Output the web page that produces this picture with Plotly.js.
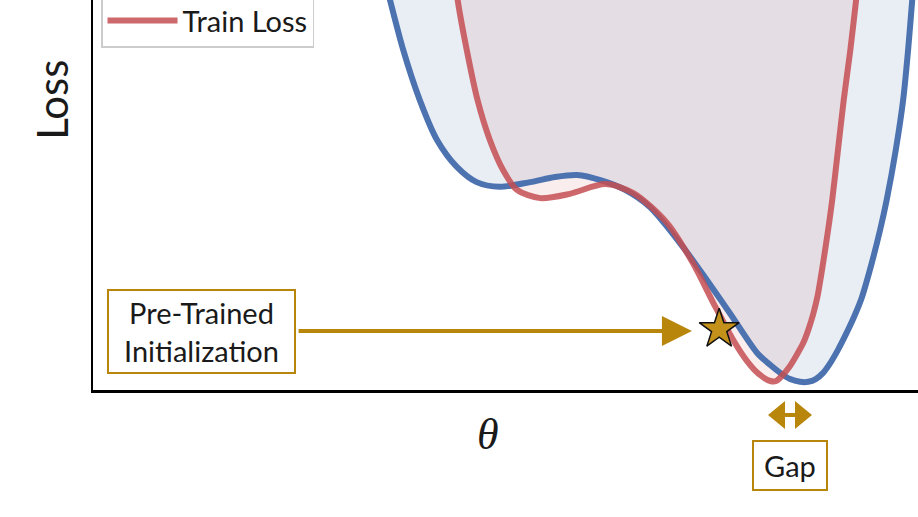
<!DOCTYPE html>
<html>
<head>
<meta charset="utf-8">
<script src="https://cdn.plot.ly/plotly-3.0.1.min.js"></script>
<style>
  html, body { margin: 0; padding: 0; background: #ffffff; }
  #chart { width: 918px; height: 517px; }
</style>
</head>
<body>
<div id="chart"></div>
<script>
// Test loss curve (blue)
const thetaTest = [3.48, 3.60, 3.76, 3.96, 4.17, 4.41, 4.65, 4.93, 5.30, 5.60, 5.87, 6.15, 6.45, 6.75, 7.15, 7.44, 7.72, 8.05, 8.21, 8.33, 8.45, 8.57, 8.67, 8.76, 8.85, 8.93, 9.03, 9.14, 9.24, 9.32, 9.44, 9.54, 9.62, 9.73, 9.82, 9.88, 9.93, 9.97];
const lossTest  = [11.03, 10.0, 8.72, 7.44, 6.41, 5.72, 5.33, 5.21, 5.33, 5.46, 5.51, 5.38, 5.13, 4.69, 3.67, 2.82, 1.97, 0.95, 0.64, 0.44, 0.28, 0.21, 0.21, 0.28, 0.44, 0.67, 1.03, 1.49, 1.95, 2.38, 3.26, 4.10, 4.87, 6.15, 7.44, 8.72, 10.0, 11.03];

// Train loss curve (red)
const thetaTrain = [4.36, 4.42, 4.53, 4.66, 4.81, 4.97, 5.14, 5.42, 5.78, 6.21, 6.55, 6.96, 7.27, 7.52, 7.76, 7.90, 8.02, 8.12, 8.21, 8.28, 8.35, 8.44, 8.53, 8.61, 8.67, 8.73, 8.78, 8.85, 8.91, 8.96, 9.03, 9.10, 9.18, 9.25, 9.31];
const lossTrain  = [11.03, 10.0, 8.72, 7.44, 6.41, 5.64, 5.13, 4.92, 5.03, 5.28, 5.05, 4.28, 3.26, 2.23, 1.28, 0.82, 0.51, 0.33, 0.23, 0.23, 0.36, 0.59, 0.90, 1.21, 1.54, 1.95, 2.38, 3.26, 4.10, 4.87, 6.15, 7.44, 8.72, 10.0, 11.03];

// Pre-trained initialization point
const initTheta = [7.59];
const initLoss  = [1.56];

// Annotation anchors (theta units)
const initLabelTheta = 1.31;
const initArrowTipTheta = 7.26;
const gapCenterTheta = 8.45;

const blue = 'rgb(76,114,176)';
const red = 'rgba(196,78,82,0.85)';
const gold = '#b8860b';
const font = 'Lato, "Open Sans", sans-serif';

const traces = [
  { x: thetaTest, y: lossTest, type: 'scatter', mode: 'lines', fill: 'toself',
    fillcolor: 'rgba(76,114,176,0.12)', line: { width: 0, shape: 'spline', smoothing: 0.8 },
    showlegend: false, hoverinfo: 'skip' },
  { x: thetaTrain, y: lossTrain, type: 'scatter', mode: 'lines', fill: 'toself',
    fillcolor: 'rgba(196,78,82,0.10)', line: { width: 0, shape: 'spline', smoothing: 0.8 },
    showlegend: false, hoverinfo: 'skip' },
  { x: thetaTest, y: lossTest, type: 'scatter', mode: 'lines', name: 'Test Loss',
    line: { color: blue, width: 6, shape: 'spline', smoothing: 0.8 } },
  { x: thetaTrain, y: lossTrain, type: 'scatter', mode: 'lines', name: 'Train Loss',
    line: { color: red, width: 6, shape: 'spline', smoothing: 0.8 } },
  { x: initTheta, y: initLoss, type: 'scatter', mode: 'markers', showlegend: false,
    marker: { symbol: 'star', size: 30, color: '#c4921a', line: { color: '#111111', width: 1.5 } } }
];

// double-headed "Gap" arrow below the axis (paper coordinates)
const gapArrowPath =
  'M0.8182,-0.0641 L0.8388,-0.0282 L0.8388,-0.1000 Z ' +
  'M0.8715,-0.0641 L0.8509,-0.0282 L0.8509,-0.1000 Z ' +
  'M0.8388,-0.0590 L0.8509,-0.0590 L0.8509,-0.0692 L0.8388,-0.0692 Z';

const layout = {
  width: 918, height: 517,
  margin: { l: 93, r: 0, t: 0, b: 127, autoexpand: false },
  paper_bgcolor: '#ffffff', plot_bgcolor: '#ffffff',
  font: { family: font, color: '#1a1a1a' },
  xaxis: { range: [0, 10], showgrid: false, zeroline: false, showticklabels: false, ticks: '',
           showline: true, linecolor: '#000000', linewidth: 2.5, fixedrange: true },
  yaxis: { range: [0, 10], showgrid: false, zeroline: false, showticklabels: false, ticks: '',
           showline: true, linecolor: '#000000', linewidth: 2.5, fixedrange: true },
  legend: { x: 0.0097, xanchor: 'left', y: 0.877, yanchor: 'bottom',
            bgcolor: '#ffffff', bordercolor: '#cccccc', borderwidth: 1.5,
            font: { family: font, size: 29, color: '#1a1a1a' }, itemwidth: 70 },
  shapes: [
    { type: 'path', xref: 'paper', yref: 'paper', path: gapArrowPath,
      fillcolor: gold, line: { width: 0 } }
  ],
  annotations: [
    { xref: 'paper', yref: 'paper', x: -0.0497, y: 0.744, xanchor: 'center', yanchor: 'middle',
      text: 'Loss', showarrow: false, textangle: -90,
      font: { family: font, size: 42, color: '#1a1a1a' } },
    { xref: 'paper', yref: 'paper', x: 0.479, y: -0.115, xanchor: 'center', yanchor: 'middle',
      text: '<i>θ</i>', showarrow: false,
      font: { family: '"Liberation Serif", "DejaVu Serif", serif', size: 44, color: '#1a1a1a' } },
    { xref: 'x', yref: 'y', x: initArrowTipTheta, y: initLoss[0] - 0.05,
      axref: 'x', ayref: 'y', ax: initLabelTheta, ay: initLoss[0] - 0.05,
      text: 'Pre-Trained<br>Initialization', showarrow: true,
      arrowhead: 2, arrowsize: 1.5, arrowwidth: 4, arrowcolor: gold, startstandoff: 4,
      width: 175, height: 71,
      bgcolor: '#ffffff', bordercolor: gold, borderwidth: 2, borderpad: 5,
      font: { family: font, size: 29, color: '#1a1a1a' } },
    { xref: 'x', yref: 'paper', x: gapCenterTheta, y: -0.1936, xanchor: 'center', yanchor: 'middle',
      text: 'Gap', showarrow: false, width: 62, height: 37,
      bgcolor: '#ffffff', bordercolor: gold, borderwidth: 2, borderpad: 5,
      font: { family: font, size: 29, color: '#1a1a1a' } }
  ]
};

Plotly.newPlot('chart', traces, layout, { displayModeBar: false, staticPlot: true });
</script>
</body>
</html>
